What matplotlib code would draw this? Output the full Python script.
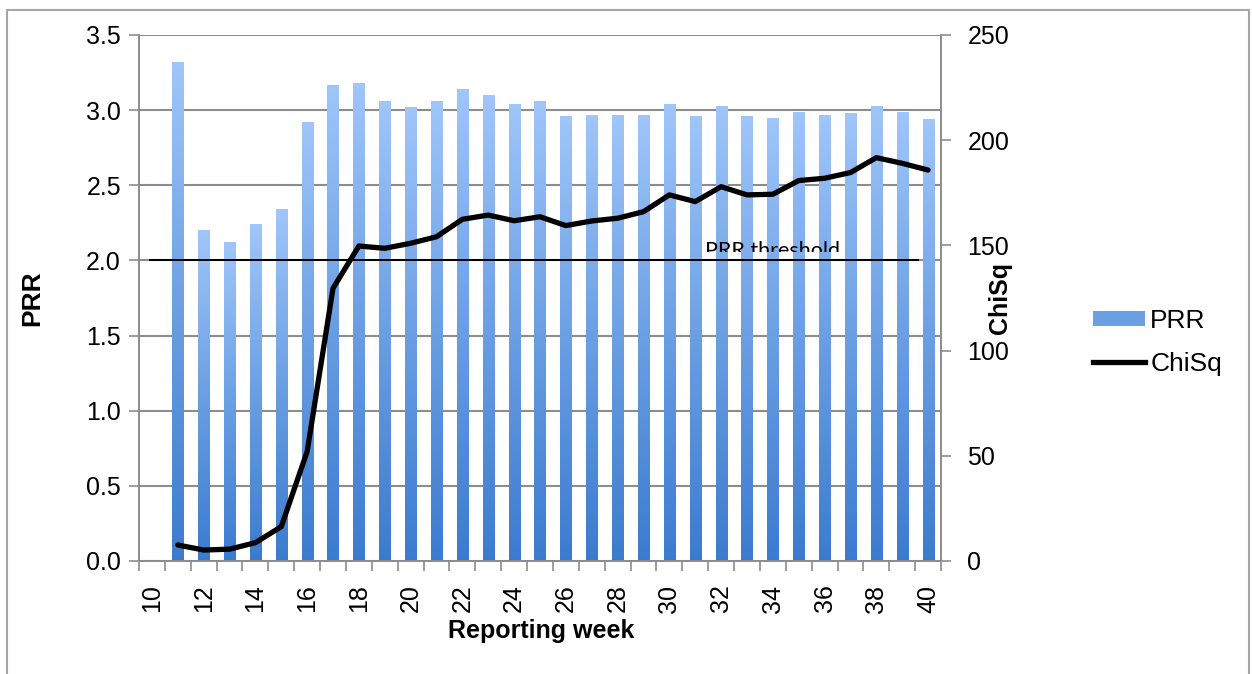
import matplotlib
matplotlib.use("Agg")
import matplotlib.pyplot as plt
import numpy as np
from matplotlib.colors import LinearSegmentedColormap
from matplotlib.lines import Line2D
from matplotlib.patches import Patch, Rectangle
from matplotlib.ticker import FixedLocator, MultipleLocator

plt.rcParams["font.family"] = ["Liberation Sans", "DejaVu Sans"]

# ----- Data ------------------------------------------------------------------

weeks = np.arange(11, 41)
prr = [3.32, 2.20, 2.12, 2.24, 2.34, 2.92, 3.17, 3.18, 3.06, 3.02,
       3.06, 3.14, 3.10, 3.04, 3.06, 2.96, 2.97, 2.97, 2.97, 3.04,
       2.96, 3.03, 2.96, 2.95, 2.99, 2.97, 2.98, 3.03, 2.99, 2.94]
chisq = [7.6, 5.2, 5.6, 8.7, 16.3, 52.0, 129.6, 149.7, 148.6, 151.0,
         154.1, 162.4, 164.4, 161.7, 163.6, 159.4, 161.6, 162.9, 166.0, 174.0,
         170.8, 177.9, 174.0, 174.3, 180.8, 181.9, 184.6, 191.7, 189.0, 185.8]
prr_threshold = 2.0
week_range = (10, 40)

GRID = "#8c8c8c"
bar_cmap = LinearSegmentedColormap.from_list(
    "bar_grad", ["#3b7bcf", "#6b9fe3", "#a0c6fa"])

# ----- Figure -----------------------------------------------------------------

fig = plt.figure(figsize=(12.52, 6.74), dpi=100)
ax = fig.add_axes([0.111, 0.1677, 0.6406, 0.7804])
ax2 = ax.twinx()

# outer frame round the whole chart
fig.patches.append(Rectangle((0.0056, -0.02), 0.992, 1.0046, transform=fig.transFigure,
                             fill=False, edgecolor="#a6a6a6", lw=1.5))

# bars with a vertical gradient, one image per bar clipped to its rectangle
bars = ax.bar(weeks, prr, width=0.43, color="none", edgecolor="none", zorder=2)
grad = np.linspace(0, 1, 256).reshape(-1, 1)
for p in bars.patches:
    x0, w, h = p.get_x(), p.get_width(), p.get_height()
    im = ax.imshow(grad, extent=[x0, x0 + w, 0, h], origin="lower",
                   aspect="auto", cmap=bar_cmap, zorder=2, interpolation="bicubic")
    im.set_clip_path(p)

# threshold line with its label (lower part of the label hidden)
ax.plot([9.92, 39.6], [prr_threshold, prr_threshold], color="black", lw=1.4, zorder=3)
lbl = ax.text(34.0, 2.025, "PRR threshold", ha="center", va="baseline",
              fontsize=15.5, family=["Lato", "DejaVu Sans"], zorder=3)
lbl.set_clip_on(True)
lbl.set_clip_path(Rectangle((9.5, 2.056), 31, 2.0, transform=ax.transData))

ax2.plot(weeks, chisq, color="black", lw=3.8,
         solid_joinstyle="round", solid_capstyle="round", zorder=4)

# ----- Axes -------------------------------------------------------------------

ax.set_xlim(week_range[0] - 0.5, week_range[1] + 0.5)
ax.set_ylim(0, 3.5)
ax2.set_ylim(0, 250)

ax.yaxis.set_major_locator(MultipleLocator(0.5))
ax.yaxis.set_major_formatter(plt.FormatStrFormatter("%.1f"))
ax2.yaxis.set_major_locator(MultipleLocator(50))

ax.xaxis.set_major_locator(FixedLocator(np.arange(week_range[0], week_range[1] + 1, 2)))
ax.xaxis.set_minor_locator(FixedLocator(np.arange(week_range[0] - 0.5, week_range[1] + 1, 1)))
ax.tick_params(axis="x", which="major", length=0, labelsize=18, pad=17, labelrotation=90)
ax.tick_params(axis="x", which="minor", length=7, width=1.2, color=GRID)
ax.tick_params(axis="y", length=7, width=1.2, color=GRID, labelsize=18, pad=6)
ax2.tick_params(axis="y", length=7, width=1.2, color=GRID, labelsize=18, pad=12)

ax.grid(axis="y", color=GRID, lw=1.5, zorder=0)
ax.set_axisbelow(True)
for a in (ax, ax2):
    a.spines["top"].set_visible(False)
    for side in ("left", "right", "bottom"):
        a.spines[side].set_color(GRID)
        a.spines[side].set_linewidth(1.2)

ax.set_ylabel("PRR", fontsize=19, fontweight="bold", va="center")
ax.yaxis.set_label_coords(-0.1334, 0.5)
ax2.set_ylabel("ChiSq", fontsize=18, fontweight="bold", va="center")
ax2.yaxis.set_label_coords(1.0736, 0.5)
ax.set_xlabel("Reporting week", fontsize=18, fontweight="bold")
ax.xaxis.set_label_coords(0.501, -0.133)
ax.xaxis.label.set_va("center")

handles = [Patch(facecolor="#6b9fe3", edgecolor="none", label="PRR"),
           Line2D([], [], color="black", lw=3.8, label="ChiSq")]
fig.legend(handles=handles, loc="center left", bbox_to_anchor=(0.873, 0.492),
           frameon=False, fontsize=19, handlelength=1.97, handleheight=0.53,
           handletextpad=0.2, labelspacing=0.72, borderpad=0, borderaxespad=0)

fig.savefig("out.png", dpi=100)
